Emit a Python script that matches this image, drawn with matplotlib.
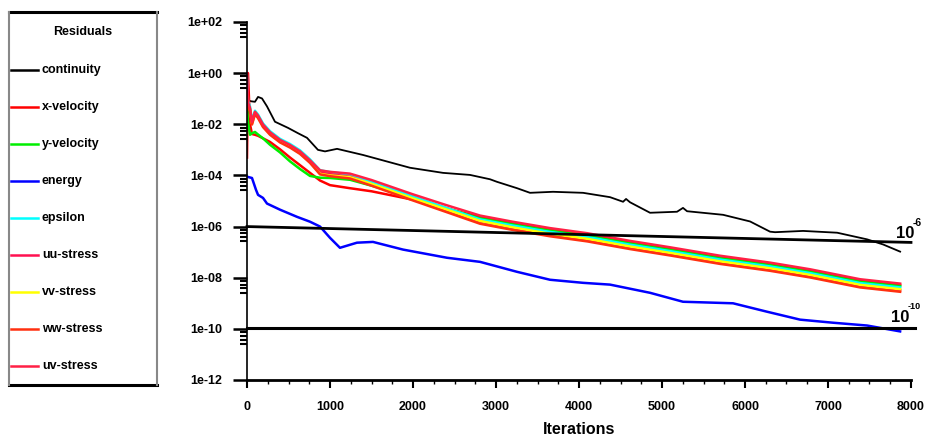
import numpy as np
import matplotlib.pyplot as plt
from matplotlib.ticker import FixedLocator, FixedFormatter, MultipleLocator, NullFormatter

plt.rcParams['font.family'] = ['Liberation Sans Narrow', 'Liberation Sans', 'DejaVu Sans']
plt.rcParams['font.weight'] = 'bold'

# residual histories as log10(residual)
names = ['continuity', 'x-velocity', 'y-velocity', 'energy', 'epsilon',
         'uu-stress', 'vv-stress', 'ww-stress', 'uv-stress']
colors = ['#000000', '#ff0000', '#00ee00', '#0000ff', '#00ffff',
          '#ff1050', '#ffff00', '#ff3010', '#ff2045']

it_cont = [0, 48, 96, 133, 181, 241, 337, 494, 615, 723, 855, 940, 1085, 1398, 1964,
           2362, 2687, 2928, 3012, 3254, 3410, 3687, 4049, 4374, 4531, 4567, 4615, 4856,
           5181, 5253, 5302, 5736, 6061, 6302, 6362, 6700, 7110, 7471, 7664, 7869]
log_cont = [-1.05, -1.1, -1.12, -0.93, -0.99, -1.3, -1.9, -2.14, -2.35, -2.53, -3.0, -3.06,
            -2.96, -3.2, -3.7, -3.9, -3.98, -4.15, -4.25, -4.5, -4.68, -4.64, -4.68, -4.85,
            -5.03, -4.92, -5.05, -5.46, -5.42, -5.27, -5.4, -5.54, -5.8, -6.2, -6.22, -6.17,
            -6.24, -6.5, -6.7, -6.98]

it_energy = [0, 60, 108, 133, 193, 241, 398, 603, 759, 880, 1000, 1120, 1325, 1518, 1880,
             2410, 2808, 3254, 3651, 4049, 4374, 4856, 5253, 5856, 6266, 6664, 7061, 7471, 7869]
log_energy = [-4.05, -4.1, -4.56, -4.76, -4.88, -5.1, -5.34, -5.62, -5.81, -6.0, -6.44,
              -6.83, -6.63, -6.6, -6.9, -7.22, -7.38, -7.77, -8.08, -8.2, -8.27, -8.59,
              -8.94, -9.0, -9.33, -9.64, -9.76, -9.87, -10.1]

it_grp = [0, 12, 36, 60, 96, 133, 193, 277, 398, 518, 639, 759, 880, 1000, 1241, 1500,
          2000, 2400, 2808, 3200, 3651, 4100, 4615, 5097, 5699, 6302, 6784, 7387, 7869]
log_xvel = [-3.3, 0.0, -2.0, -2.38, -2.41, -2.45, -2.55, -2.69, -2.98, -3.3, -3.6, -3.9,
            -4.2, -4.38, -4.5, -4.62, -4.95, -5.3, -5.62, -5.86, -6.11, -6.31, -6.61,
            -6.86, -7.19, -7.46, -7.72, -8.11, -8.28]
log_yvel = [-1.36, -1.9, -2.41, -2.35, -2.3, -2.4, -2.55, -2.8, -3.1, -3.45, -3.75, -4.02,
            -4.09, -4.1, -4.17, -4.4, -4.88, -5.28, -5.68, -5.91, -6.16, -6.36, -6.66,
            -6.91, -7.24, -7.51, -7.77, -8.16, -8.33]
log_eps = [-0.1, -1.1, -1.3, -1.85, -1.47, -1.62, -1.97, -2.27, -2.57, -2.77, -3.02, -3.37,
           -3.8, -3.87, -3.96, -4.24, -4.82, -5.27, -5.72, -5.96, -6.21, -6.41, -6.71,
           -6.96, -7.29, -7.56, -7.82, -8.21, -8.38]
log_uu = [0.0, -1.2, -1.4, -1.95, -1.55, -1.7, -2.05, -2.35, -2.65, -2.85, -3.1, -3.45,
          -3.88, -3.95, -4.05, -4.35, -4.93, -5.37, -5.81, -6.06, -6.32, -6.52, -6.82,
          -7.07, -7.4, -7.67, -7.93, -8.32, -8.49]
log_vv = [-0.9, -1.3, -1.43, -1.98, -1.58, -1.73, -2.08, -2.38, -2.68, -2.88, -3.13, -3.48,
          -3.94, -4.0, -4.07, -4.33, -4.9, -5.33, -5.78, -6.03, -6.28, -6.48, -6.78,
          -7.03, -7.36, -7.63, -7.89, -8.28, -8.45]
log_ww = [-1.2, -1.35, -1.46, -2.01, -1.61, -1.76, -2.11, -2.41, -2.71, -2.91, -3.16, -3.51,
          -3.96, -4.03, -4.12, -4.4, -4.98, -5.43, -5.89, -6.13, -6.38, -6.58, -6.88,
          -7.13, -7.46, -7.73, -7.99, -8.38, -8.55]
log_uv = [-0.5, -1.15, -1.36, -1.91, -1.51, -1.66, -2.01, -2.31, -2.61, -2.81, -3.06, -3.41,
          -3.8, -3.86, -3.93, -4.18, -4.74, -5.16, -5.57, -5.81, -6.06, -6.26, -6.56,
          -6.81, -7.14, -7.41, -7.67, -8.06, -8.23]

series = [(it_cont, log_cont), (it_grp, log_xvel), (it_grp, log_yvel), (it_energy, log_energy),
          (it_grp, log_eps), (it_grp, log_uu), (it_grp, log_vv), (it_grp, log_ww), (it_grp, log_uv)]

# target lines drawn on the chart
tol_hi_x = [0, 8000]
tol_hi_y = [1.0e-6, 2.4e-7]
tol_lo_x = [0, 8050]
tol_lo_y = [1.1e-10, 1.1e-10]

ytick_vals = [1e2, 1e0, 1e-2, 1e-4, 1e-6, 1e-8, 1e-10, 1e-12]
ytick_labels = ['1e+02', '1e+00', '1e-02', '1e-04', '1e-06', '1e-08', '1e-10', '1e-12']

fig = plt.figure(figsize=(9.25, 4.41), dpi=100)
ax = fig.add_axes([247 / 925, 61 / 441, 664 / 925, 358 / 441])

for (it, lg), c in zip(series, colors):
    lw = 1.3 if c == '#000000' else 1.8
    ax.plot(it, 10.0 ** np.array(lg), color=c, lw=lw)

ax.plot(tol_hi_x, tol_hi_y, color='black', lw=2.0, clip_on=False)
ax.plot(tol_lo_x, tol_lo_y, color='black', lw=2.2, clip_on=False)

ax.set_yscale('log')
ax.set_xlim(0, 8000)
ax.set_ylim(1e-12, 1e2)

ax.yaxis.set_major_locator(FixedLocator(ytick_vals))
ax.yaxis.set_major_formatter(FixedFormatter(ytick_labels))
minor = []
for v in ytick_vals[:-1]:
    for off in (0.13, 0.27, 0.42, 0.58):
        minor.append(v * 10 ** (-off))
ax.yaxis.set_minor_locator(FixedLocator(minor))
ax.yaxis.set_minor_formatter(NullFormatter())
ax.xaxis.set_major_locator(MultipleLocator(1000))
ax.xaxis.set_minor_locator(MultipleLocator(250))

for s in ['top', 'right']:
    ax.spines[s].set_visible(False)
ax.spines['left'].set_linewidth(1.2)
ax.spines['bottom'].set_linewidth(2.0)

ax.tick_params(axis='y', which='major', length=10, width=1.8, pad=8, labelsize=9)
ax.tick_params(axis='y', which='minor', length=5, width=1.5)
ax.tick_params(axis='x', which='major', length=6, width=1.5, pad=9, labelsize=9)
ax.tick_params(axis='x', which='minor', length=3, width=1.0)
for lab in ax.get_xticklabels() + ax.get_yticklabels():
    lab.set_fontweight('bold')

fig.text(579 / 925, 1 - 430 / 441, 'Iterations', ha='center', va='center',
         fontsize=11.5, fontweight='bold')

# labels next to the target lines
ax.text(7930, 10 ** -6.27, '10', ha='center', va='center', fontsize=12, fontweight='bold')
ax.text(8070, 10 ** -5.87, '-6', ha='center', va='center', fontsize=7.5, fontweight='bold')
ax.text(7870, 10 ** -9.55, '10', ha='center', va='center', fontsize=12, fontweight='bold')
ax.text(7965, 10 ** -9.12, '-10', ha='left', va='center', fontsize=6.5, fontweight='bold')

# legend box drawn by hand, pixel coordinates from the top-left of the box
lg = fig.add_axes([9 / 925, 56 / 441, 148 / 925, 373 / 441])
lg.set_xlim(0, 148)
lg.set_ylim(373, 0)
lg.axis('off')
lg.plot([0, 148], [0, 0], color='black', lw=2.2, clip_on=False)
lg.plot([0, 148], [373, 373], color='black', lw=2.2, clip_on=False)
lg.plot([0, 0], [0, 373], color='#888888', lw=1.5, clip_on=False)
lg.plot([148, 148], [0, 373], color='#888888', lw=1.5, clip_on=False)
lg.text(74, 20, 'Residuals', ha='center', va='center', fontsize=9, fontweight='bold')
for i, (n, c) in enumerate(zip(names, colors)):
    yy = 58 + i * 37
    lg.plot([2, 29], [yy, yy], color=c, lw=1.8)
    lg.text(33, yy, n, ha='left', va='center', fontsize=9, fontweight='bold')

fig.savefig('out.png', dpi=100)
